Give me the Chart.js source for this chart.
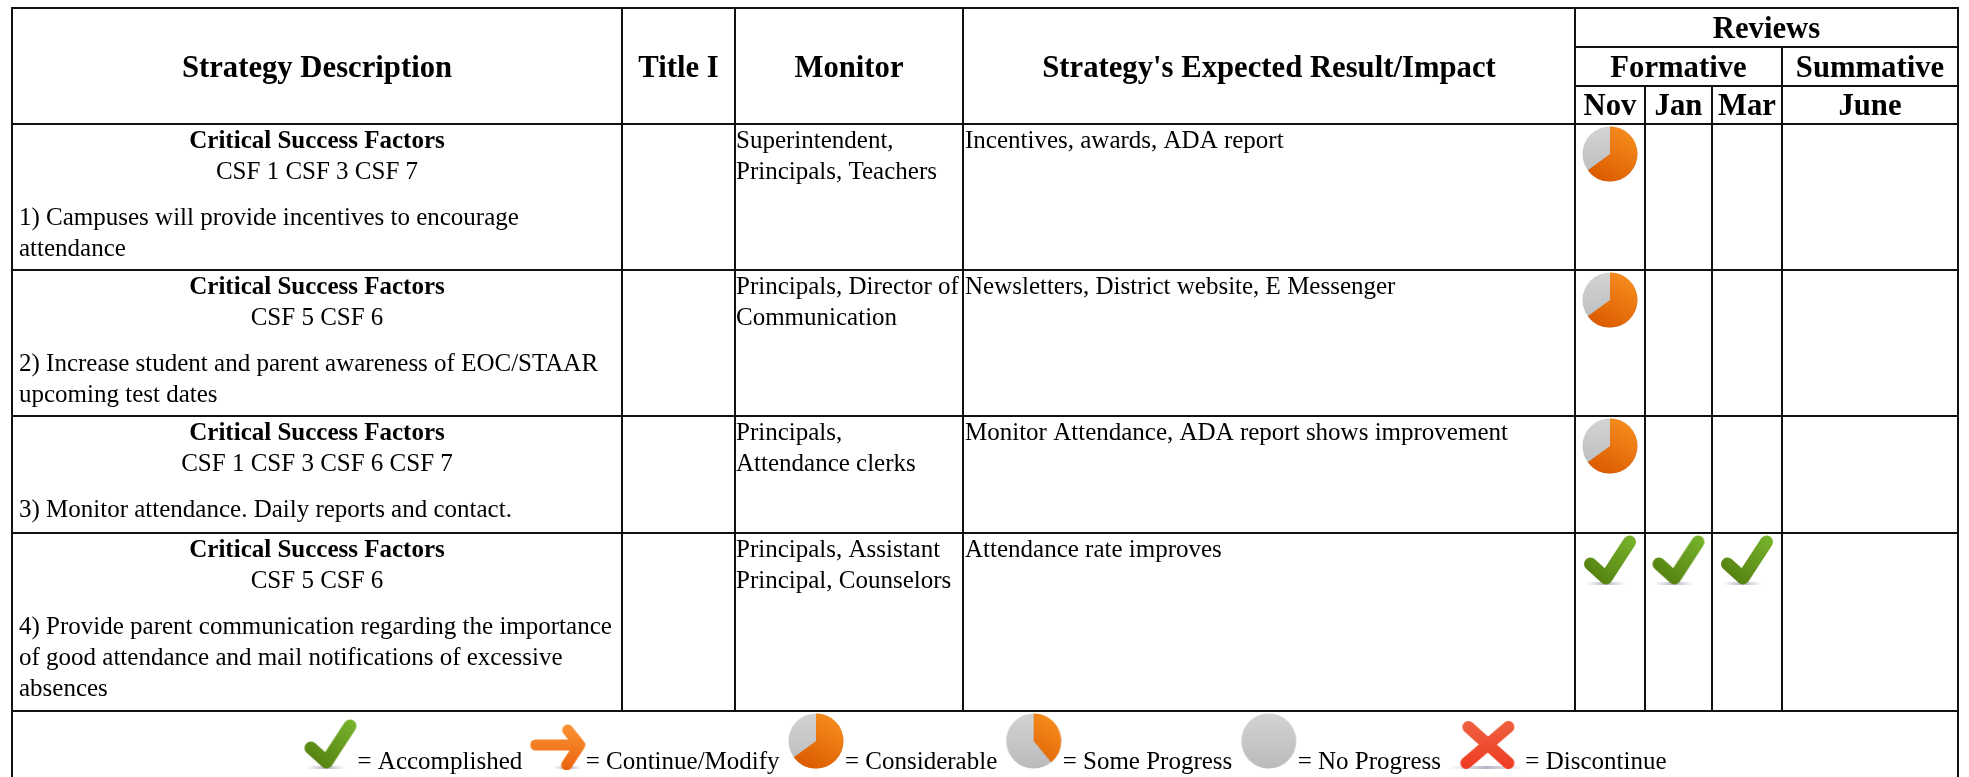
<!DOCTYPE html>
<html>
<head>
<meta charset="utf-8">
<title>Strategy review table</title>
<script src="https://cdn.jsdelivr.net/npm/chart.js@4"></script>
<style>
  html, body { margin: 0; padding: 0; background: #fff; overflow: hidden; }
  canvas { display: block; }
</style>
</head>
<body>
<canvas id="chart" width="1969" height="777"></canvas>
<script>
// table content
const csfLabels = ["CSF 1 CSF 3 CSF 7", "CSF 5 CSF 6", "CSF 1 CSF 3 CSF 6 CSF 7", "CSF 5 CSF 6"];
const strategyLines = [
  ["1) Campuses will provide incentives to encourage", "attendance"],
  ["2) Increase student and parent awareness of EOC/STAAR", "upcoming test dates"],
  ["3) Monitor attendance. Daily reports and contact."],
  ["4) Provide parent communication regarding the importance", "of good attendance and mail notifications of excessive", "absences"]
];
const monitorLines = [
  ["Superintendent,", "Principals, Teachers"],
  ["Principals, Director of", "Communication"],
  ["Principals,", "Attendance clerks"],
  ["Principals, Assistant", "Principal, Counselors"]
];
const impacts = [
  "Incentives, awards, ADA report",
  "Newsletters, District website, E Messenger",
  "Monitor Attendance, ADA report shows improvement",
  "Attendance rate improves"
];

// review status per row, one list per review column
const reviewNov = ["considerable", "considerable", "considerable", "accomplished"];
const reviewJan = [null, null, null, "accomplished"];
const reviewMar = [null, null, null, "accomplished"];
const reviewJune = [null, null, null, null];

const legendKinds = ["accomplished", "continue", "considerable", "some", "none", "discontinue"];
const legendLabels = ["= Accomplished", "= Continue/Modify", "= Considerable", "= Some Progress", "= No Progress", "= Discontinue"];

// share of the pie shown in orange
const pieShare = { considerable: 0.65, some: 0.39, none: 0 };

// table layout, in canvas units
const colEdges = [12, 622, 735, 963, 1575, 1645, 1712, 1782, 1958];
const rowEdges = [124, 270, 416, 533, 711];
const headEdges = [8, 47, 86];
const pageBottom = 777;

const SERIF = '"Liberation Serif", "Times New Roman", serif';
const HEAD_FONT = "bold 30.7px " + SERIF;
const BOLD_FONT = "bold 25px " + SERIF;
const BODY_FONT = "25px " + SERIF;

const iconSizes = {
  accomplished: [54, 52],
  continue: [56, 46],
  considerable: [58, 58],
  some: [58, 58],
  none: [58, 58],
  discontinue: [77, 50]
};

function makeIcon(kind) {
  const [w, h] = iconSizes[kind];
  const c = document.createElement("canvas");
  c.width = w;
  c.height = h;
  const g = c.getContext("2d");
  g.filter = "blur(0.7px)";
  g.lineCap = "round";
  g.lineJoin = "round";

  if (kind in pieShare) {
    const cx = w / 2, cy = h / 2, r = w / 2 - 1.5;
    const grey = g.createLinearGradient(0, 0, 0, h);
    grey.addColorStop(0, "#d3d4d6");
    grey.addColorStop(1, "#b9babc");
    g.fillStyle = grey;
    g.beginPath();
    g.arc(cx, cy, r, 0, Math.PI * 2);
    g.fill();
    if (pieShare[kind] > 0) {
      const orange = g.createLinearGradient(w, 0, w * 0.4, h);
      orange.addColorStop(0, "#fa9522");
      orange.addColorStop(1, "#dc5b00");
      g.fillStyle = orange;
      g.beginPath();
      g.moveTo(cx, cy);
      g.arc(cx, cy, r, -Math.PI / 2, -Math.PI / 2 + pieShare[kind] * Math.PI * 2);
      g.closePath();
      g.fill();
    }
    return c;
  }

  // soft shadow the glyphs stand on
  const shadow = (x0, x1) => {
    const s = g.createLinearGradient(x0, 0, x1, 0);
    s.addColorStop(0, "rgba(170,175,190,0)");
    s.addColorStop(0.5, "rgba(150,155,175,0.75)");
    s.addColorStop(1, "rgba(170,175,190,0)");
    g.fillStyle = s;
    g.fillRect(x0, h - 4, x1 - x0, 3);
  };

  if (kind === "accomplished") {
    shadow(3, 42);
    const grad = g.createLinearGradient(w, 0, 10, h);
    grad.addColorStop(0, "#7ab82e");
    grad.addColorStop(1, "#527c0e");
    g.strokeStyle = grad;
    g.lineWidth = 13;
    g.beginPath();
    g.moveTo(7.5, 30);
    g.lineTo(23, 44);
    g.lineTo(46.5, 8);
    g.stroke();
  } else if (kind === "continue") {
    shadow(24, 52);
    const grad = g.createLinearGradient(0, 0, 0, h);
    grad.addColorStop(0, "#fb9233");
    grad.addColorStop(1, "#ea6510");
    g.strokeStyle = grad;
    g.lineWidth = 11;
    g.beginPath();
    g.moveTo(6, 21);
    g.lineTo(49, 21);
    g.stroke();
    g.beginPath();
    g.moveTo(38, 6);
    g.lineTo(50, 21);
    g.lineTo(37, 41);
    g.stroke();
  } else if (kind === "discontinue") {
    shadow(0, 77);
    const grad = g.createLinearGradient(0, 0, 0, h);
    grad.addColorStop(0, "#ee6240");
    grad.addColorStop(1, "#ee3a22");
    g.strokeStyle = grad;
    g.lineWidth = 12;
    g.beginPath();
    g.moveTo(20, 7);
    g.lineTo(60, 43);
    g.moveTo(60, 7);
    g.lineTo(18, 43);
    g.stroke();
  }
  return c;
}

const icons = {};
Object.keys(iconSizes).forEach((k) => { icons[k] = makeIcon(k); });

const cellCenter = (i, j) => (colEdges[i] + colEdges[j]) / 2;

// review marks sit at the top of their cell
const reviewColumns = [reviewNov, reviewJan, reviewMar, reviewJune];
const reviewPoints = [];
const reviewStyles = [];
reviewColumns.forEach((col, c) => {
  col.forEach((kind, r) => {
    if (!kind) return;
    reviewPoints.push({
      x: cellCenter(4 + c, 5 + c),
      y: rowEdges[r] + 1 + iconSizes[kind][1] / 2
    });
    reviewStyles.push(icons[kind]);
  });
});

// legend flows like a centered line of inline images and text
const measure = document.createElement("canvas").getContext("2d");
measure.font = BODY_FONT;
const legendGap = 7.4;
const legendBaseline = 770;
const legendWidth = legendKinds.reduce((sum, kind, i) =>
  sum + iconSizes[kind][0] + measure.measureText(legendLabels[i]).width + legendGap, -legendGap);
let cursor = (colEdges[0] + colEdges[8]) / 2 - legendWidth / 2;
const legendPoints = [];
const legendTextX = [];
legendKinds.forEach((kind, i) => {
  const [w, h] = iconSizes[kind];
  legendPoints.push({ x: cursor + w / 2, y: legendBaseline - h / 2 });
  legendTextX.push(cursor + w);
  cursor += w + measure.measureText(legendLabels[i]).width + legendGap;
});

// table rules as two point line datasets
function rule(x0, y0, x1, y1) {
  return {
    data: [{ x: x0, y: y0 }, { x: x1, y: y1 }],
    showLine: true,
    pointRadius: 0,
    borderColor: "#111",
    borderWidth: 2,
    borderCapStyle: "square"
  };
}

const tableBottom = rowEdges[rowEdges.length - 1];
const rules = [
  rule(colEdges[0], headEdges[0], colEdges[8], headEdges[0]),
  rule(colEdges[4], headEdges[1], colEdges[8], headEdges[1]),
  rule(colEdges[4], headEdges[2], colEdges[8], headEdges[2]),
  rule(colEdges[0], headEdges[0], colEdges[0], pageBottom),
  rule(colEdges[8], headEdges[0], colEdges[8], pageBottom),
  rule(colEdges[7], headEdges[1], colEdges[7], tableBottom),
  rule(colEdges[5], headEdges[2], colEdges[5], tableBottom),
  rule(colEdges[6], headEdges[2], colEdges[6], tableBottom)
];
[1, 2, 3, 4].forEach((i) => rules.push(rule(colEdges[i], headEdges[0], colEdges[i], tableBottom)));
rowEdges.forEach((y) => rules.push(rule(colEdges[0], y, colEdges[8], y)));

const tableText = {
  id: "tableText",
  afterDatasetsDraw(chart) {
    const { ctx, scales } = chart;
    const put = (str, x, y, font, align) => {
      ctx.font = font;
      ctx.textAlign = align || "left";
      ctx.fillText(str, scales.x.getPixelForValue(x), scales.y.getPixelForValue(y));
    };
    ctx.save();
    ctx.fillStyle = "#000";
    ctx.textBaseline = "alphabetic";

    put("Strategy Description", cellCenter(0, 1), 77, HEAD_FONT, "center");
    put("Title I", cellCenter(1, 2), 77, HEAD_FONT, "center");
    put("Monitor", cellCenter(2, 3), 77, HEAD_FONT, "center");
    put("Strategy's Expected Result/Impact", cellCenter(3, 4), 77, HEAD_FONT, "center");
    put("Reviews", cellCenter(4, 8), 38, HEAD_FONT, "center");
    put("Formative", cellCenter(4, 7), 77, HEAD_FONT, "center");
    put("Summative", cellCenter(7, 8), 77, HEAD_FONT, "center");
    put("Nov", cellCenter(4, 5), 115, HEAD_FONT, "center");
    put("Jan", cellCenter(5, 6), 115, HEAD_FONT, "center");
    put("Mar", cellCenter(6, 7), 115, HEAD_FONT, "center");
    put("June", cellCenter(7, 8), 115, HEAD_FONT, "center");

    csfLabels.forEach((label, r) => {
      const top = rowEdges[r];
      put("Critical Success Factors", cellCenter(0, 1), top + 24, BOLD_FONT, "center");
      put(label, cellCenter(0, 1), top + 55, BODY_FONT, "center");
      strategyLines[r].forEach((line, l) => put(line, colEdges[0] + 7, top + 101 + l * 31, BODY_FONT));
      monitorLines[r].forEach((line, l) => put(line, colEdges[2] + 1, top + 24 + l * 31, BODY_FONT));
      put(impacts[r], colEdges[3] + 2, top + 24, BODY_FONT);
    });

    legendLabels.forEach((label, i) => put(label, legendTextX[i], legendBaseline - 1, BODY_FONT));
    ctx.restore();
  }
};

new Chart(document.getElementById("chart"), {
  type: "scatter",
  data: {
    datasets: [
      ...rules,
      { data: reviewPoints, pointStyle: reviewStyles, pointRadius: 20, showLine: false },
      { data: legendPoints, pointStyle: legendKinds.map((k) => icons[k]), pointRadius: 20, showLine: false }
    ]
  },
  options: {
    responsive: false,
    animation: false,
    events: [],
    layout: { padding: 0, autoPadding: false },
    plugins: { legend: { display: false }, tooltip: { enabled: false } },
    scales: {
      x: { type: "linear", display: false, min: 0, max: 1969 },
      y: { type: "linear", display: false, min: 0, max: 777, reverse: true }
    }
  },
  plugins: [tableText]
});
</script>
</body>
</html>
